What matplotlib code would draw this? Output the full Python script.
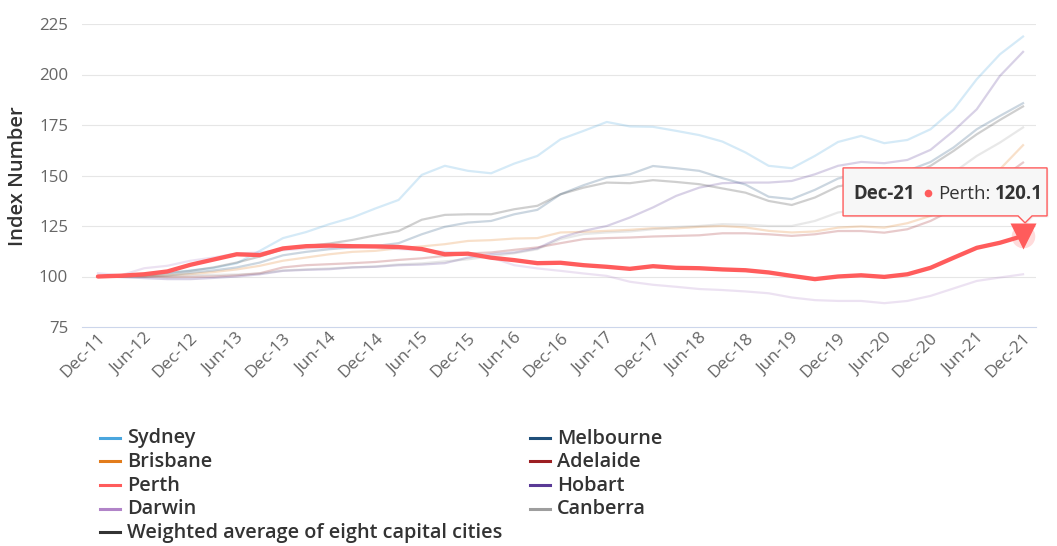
import matplotlib
matplotlib.use('Agg')
import matplotlib.pyplot as plt
from matplotlib.lines import Line2D
from matplotlib.patches import Polygon
from matplotlib.transforms import ScaledTranslation

plt.rcParams['font.family'] = ['Open Sans', 'DejaVu Sans']

# ---------------- data ----------------
quarters = ['Dec-11'] + [f'{m}-{y}' for y in range(12, 22) for m in ['Mar', 'Jun', 'Sep', 'Dec']]

sydney = [100, 100.3, 101, 101.8, 103, 104.2, 106.5, 112.7, 119, 122, 125.9, 129.2, 133.7, 137.9,
          150.3, 154.8, 152.3, 151.1, 155.9, 159.7, 167.9, 172.1, 176.5, 174.3, 174.1, 172.1, 170,
          166.8, 161.4, 154.8, 153.6, 159.7, 166.6, 169.6, 166, 167.6, 172.9, 182.8, 197.7, 210, 218.8]
melbourne = [100, 100, 100, 100.5, 101.8, 103, 104.5, 106.9, 110.5, 112.2, 113.5, 114.4, 115.1, 116.5,
             120.9, 124.6, 126.7, 127.5, 130.8, 133, 140.7, 145.2, 149, 150.6, 154.7, 153.6, 152.3,
             148.7, 145.5, 139.5, 138.3, 142.9, 148.5, 151.1, 150.6, 152.3, 156.7, 163.9, 172.9, 179.5, 185.8]
brisbane = [100, 99.8, 100, 100.5, 101.2, 102.2, 103.5, 105.3, 107.8, 109.4, 111, 112.2, 112.7, 114,
            114.9, 116, 117.6, 118, 118.8, 119, 121.8, 122.1, 122.6, 123.1, 123.9, 123.8, 124.6,
            125, 124.3, 122.6, 121.8, 122.3, 124.2, 124.8, 124.2, 126.4, 130, 135.8, 144, 153.1, 165]
adelaide = [100, 100.2, 100, 99.7, 99.8, 100, 100.6, 101.6, 104.5, 105.6, 106.1, 106.6, 107.2, 108.2,
            109, 110.2, 111.4, 111.9, 113.2, 114.4, 116.5, 118.5, 119, 119.3, 119.8, 120.1, 120.4,
            121.4, 121.4, 120.9, 120.1, 120.9, 122.5, 122.5, 121.7, 123.4, 127.5, 133.3, 139.9, 148.2, 156.4]
perth = [100, 100.4, 101.1, 102.5, 105.8, 108.4, 111, 110.6, 113.9, 115, 115.3, 115, 114.9, 114.6,
         113.6, 111, 111.3, 109.3, 108.1, 106.6, 106.8, 105.6, 104.8, 103.8, 105.1, 104.3, 104.1,
         103.5, 103.1, 102, 100.3, 98.7, 100, 100.6, 99.8, 101.1, 104.3, 109.3, 114.2, 116.7, 120.1]
hobart = [100, 99.7, 99.2, 98.7, 98.7, 99.3, 100, 101.1, 102.8, 103.3, 103.6, 104.5, 104.8, 105.6,
          105.9, 106.6, 109.4, 111, 111.9, 113.9, 119.3, 122.6, 125, 129.2, 134.2, 139.9, 144,
          146.2, 146.5, 146.5, 147.3, 150.6, 154.8, 156.7, 156.1, 157.7, 162.7, 172.1, 182.8, 199.3, 211.2]
darwin = [101.6, 100.6, 104.1, 105.3, 107.8, 109.4, 111.4, 111.9, 113, 113.8, 114.3, 114.5, 114.2, 113.6,
          113, 112.2, 111.4, 109.4, 105.6, 104, 102.8, 101.5, 100.3, 97.4, 95.9, 94.9, 93.8,
          93.3, 92.6, 91.7, 89.6, 88.3, 87.9, 87.9, 86.8, 87.9, 90.4, 94.1, 97.8, 99.5, 101.1]
canberra = [100, 100.5, 100.3, 100, 100.5, 100.8, 101, 101.5, 103, 103.5, 104, 104.5, 105, 106,
            106.5, 107.5, 108.5, 110, 111.5, 113.5, 118.5, 121, 121.8, 122.3, 123.4, 124.5, 125,
            125.9, 125.6, 125, 125, 127.5, 131.7, 133.3, 134.2, 137.4, 144, 151.5, 159.7, 166.3, 173.8]
weighted = [100, 100, 100.6, 101.6, 102.8, 104.5, 106.9, 109.9, 113.5, 115.1, 116.3, 118.1, 120.4, 122.5,
            128.1, 130.5, 130.8, 130.8, 133.3, 135, 140.7, 144, 146.5, 146.2, 147.7, 146.8, 145.7,
            143.6, 141.5, 137.4, 135.4, 139.1, 144.6, 146.5, 145.7, 149.5, 154.8, 162.2, 170.4, 177.5, 184.2]

names = ['Sydney', 'Melbourne', 'Brisbane', 'Adelaide', 'Perth', 'Hobart', 'Darwin', 'Canberra',
         'Weighted average of eight capital cities']
values = [sydney, melbourne, brisbane, adelaide, perth, hobart, darwin, canberra, weighted]
colors = ['#4aa6de', '#1f4f7a', '#e27c1c', '#9c1e22', '#ff5c5c', '#5a3a96', '#b184c8', '#9e9e9e', '#333333']
highlight = 'Perth'

yticks = [75, 100, 125, 150, 175, 200, 225]

# ---------------- figure ----------------
W, H = 1057, 546
fig = plt.figure(figsize=(W / 100, H / 100), dpi=100)


def fx(x):
    return x / W


def fy(y):
    return 1 - y / H


ax = fig.add_axes([fx(82), fy(327), fx(1036) - fx(82), fy(24) - fy(327)])

xs = list(range(len(quarters)))
for name, vals, col in zip(names, values, colors):
    if name == highlight:
        ax.plot(xs, vals, color=col, lw=3.1, solid_joinstyle='round', solid_capstyle='round', zorder=5)
    else:
        ax.plot(xs, vals, color=col, lw=1.6, alpha=0.23, solid_joinstyle='round', zorder=3)

ax.set_xlim(-0.69, 40.56)
ax.set_ylim(75, 225)
ax.set_yticks(yticks)
ax.set_yticklabels([str(v) for v in yticks])
for v in yticks[1:]:
    ax.axhline(v, color='#e6e6e6', lw=0.8, zorder=1)
for s in ['top', 'right', 'left']:
    ax.spines[s].set_visible(False)
ax.spines['bottom'].set_color('#ccd6eb')
ax.spines['bottom'].set_linewidth(0.8)
ax.tick_params(axis='y', length=0, pad=10, labelsize=12.2, labelcolor='#666666')
ax.tick_params(axis='x', length=0, pad=6, labelsize=12.4, labelcolor='#666666')

ax.set_xticks(xs[::2])
ax.set_xticklabels(quarters[::2], rotation=45, ha='right', va='center', rotation_mode='anchor')
off = ScaledTranslation(5 / 100, 0, fig.dpi_scale_trans)
for lab in ax.get_xticklabels():
    lab.set_transform(lab.get_transform() + off)

fig.text(fx(18), fy(176), 'Index Number', rotation=90, ha='center', va='center',
         fontsize=14.5, fontweight='semibold', color='#333333')

# ---------------- highlighted point + tooltip ----------------
last = len(quarters) - 1
pcol = colors[names.index(highlight)]
ax.plot([last], [perth[-1]], marker='o', ms=17, color=pcol, alpha=0.22, mec='none', zorder=6, clip_on=False)
ax.plot([last], [perth[-1]], marker='v', ms=19, color=pcol, mec='none', zorder=7, clip_on=False)

fig.canvas.draw()
dx, dy = ax.transData.transform((last, perth[-1]))
px, py = dx, H - dy  # image coords (y down)

left, right = px - 180, px + 24
top, bottom = py - 68, py - 20
pts = [(left, top), (right, top), (right, bottom), (px + 9, bottom), (px + 2, py - 13),
       (px - 5, bottom), (left, bottom)]
shadow = Polygon([(fx(x + 1.5), fy(y + 1.5)) for x, y in pts], closed=True, transform=fig.transFigure,
                 facecolor='#000000', alpha=0.06, edgecolor='none', zorder=9)
box = Polygon([(fx(x), fy(y)) for x, y in pts], closed=True, transform=fig.transFigure,
              facecolor='#f7f7f7', edgecolor=pcol, lw=1.0, zorder=10)
fig.add_artist(shadow)
fig.add_artist(box)

base = py - 37
tsize = 13.4
fig.text(fx(left + 10), fy(base), quarters[-1], fontsize=tsize, fontweight='bold', color='#333333',
         va='baseline', ha='left', zorder=11)
fig.add_artist(Line2D([fx(left + 85)], [fy(base - 5.5)], marker='o', ms=5.5, color=pcol,
                      mec='none', transform=fig.transFigure, zorder=11))
t_lab = fig.text(fx(left + 95), fy(base), f'{highlight}:', fontsize=tsize, color='#333333',
                 va='baseline', ha='left', zorder=11)
fig.canvas.draw()
lab_right = t_lab.get_window_extent().x1
fig.text(fx(lab_right + 5), fy(base), f'{perth[-1]:.1f}', fontsize=tsize, fontweight='bold',
         color='#333333', va='baseline', ha='left', zorder=11)

# ---------------- legend (two columns, row-major like the original) ----------------
col_x = [100, 530]
row_y0, row_dy = 437.7, 23.65
for k, (name, col) in enumerate(zip(names, colors)):
    c, r = k % 2, k // 2
    x0 = col_x[c]
    y0 = row_y0 + r * row_dy
    fig.add_artist(Line2D([fx(x0), fx(x0 + 20)], [fy(y0), fy(y0)], color=col, lw=2.2,
                          transform=fig.transFigure))
    fig.text(fx(x0 + 27), fy(y0 + 5.8), name, fontsize=14.3, fontweight='semibold', color='#333333',
             va='baseline', ha='left')

fig.savefig('out.png', dpi=100)
